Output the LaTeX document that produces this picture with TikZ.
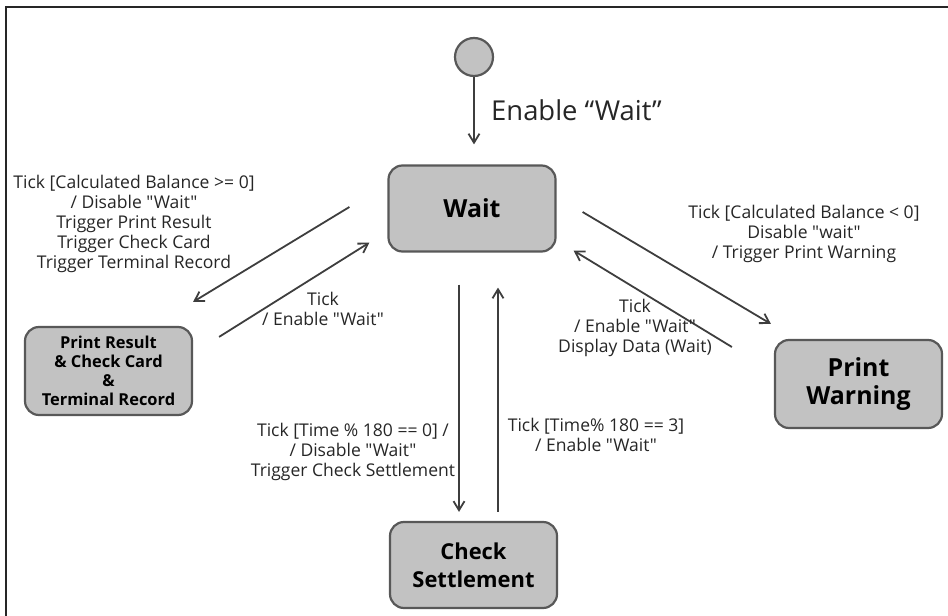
\documentclass[tikz,border=0pt]{standalone}
\usepackage{fontspec}
\newfontfamily\lblfont{Open Sans}
\usepackage{tikz}
\usetikzlibrary{calc}
\usetikzlibrary{arrows.meta}
\usetikzlibrary{positioning}

\definecolor{statefill}{RGB}{194,194,194}
\definecolor{stateline}{RGB}{88,88,88}
\definecolor{arrowgray}{RGB}{62,62,62}

\tikzset{
  state/.style={draw=stateline, line width=2.2bp, fill=statefill, rounded corners=14bp, align=center, inner sep=2bp,
    minimum width=167bp, minimum height=86bp, font=\lblfont\bfseries\fontsize{25}{28}\selectfont},
  trans/.style={draw=arrowgray, line width=1.8bp, -{Straight Barb[length=9bp,width=11bp]}},
  guard/.style={align=center, inner sep=0pt, text=black!85, font=\lblfont\fontsize{17.6}{20.2}\selectfont}
}

\begin{document}
\begin{tikzpicture}[x=1bp, y=-1bp]
\useasboundingbox (0,0) rectangle (948,616);
\draw[line width=2bp, draw=black!85] (5.5,616) -- (5.5,7.5) -- (948,7.5);

% states
\node[circle, draw=stateline, line width=2.2bp, fill=statefill, minimum size=38bp, inner sep=0pt] (init) at (474,57) {};
\node[state] (wait) at (472,208.5) {Wait};
\node[state, minimum height=88bp, font=\lblfont\bfseries\fontsize{16.5}{19}\selectfont] (result) at (108.5,371) {Print Result\\ \& Check Card\\ \&\\ Terminal Record};
\node[state, minimum height=88bp] (warning) at (858.5,384) {Print\\ Warning};
\node[state, font=\lblfont\bfseries\fontsize{22}{28}\selectfont] (settle) at (473.5,565) {Check\\ Settlement};

% transitions
\draw[trans, shorten >=20bp] (init) -- (init |- wait.north);
\node[anchor=west, inner sep=0pt, text=black!85, font=\lblfont\fontsize{27.5}{30}\selectfont] (enablelbl) at (491,110) {Enable “Wait”};

\draw[trans] ($(wait.west)+(-38,-1.5)$) -- ($(result.north east)+(0,-24)$);
\draw[trans] ($(result.north east)+(26,11)$) -- ($(wait.south west)+(-18,-10)$);
\draw[trans] ($(wait.east)+(26,3.5)$) -- ($(warning.north west)+(-3,-15)$);
\draw[trans] ($(warning.west)+(-42,-37)$) -- ($(wait.south east)+(17,-2)$);
\draw[trans] ($(wait.south)+(-13,32)$) -- ($(settle.north)+(-14.5,-9)$);
\draw[trans] ($(settle.north)+(24.5,-9)$) -- ($(wait.south)+(26,35)$);

% guards
\node[guard] (leftguard) at (134,224) {Tick [Calculated Balance >= 0]\\ / Disable "Wait"\\ Trigger Print Result\\ Trigger Check Card\\ Trigger Terminal Record};
\node[guard] (leftback) at (323,309) {Tick\\ / Enable "Wait"};
\node[guard] (rightguard) at (804,234) {Tick [Calculated Balance < 0]\\ Disable "wait"\\ / Trigger Print Warning};
\node[guard] (rightback) at (635,328) {Tick\\ / Enable "Wait"\\ Display Data (Wait)};
\node[guard] (downguard) at (353,452) {Tick [Time \% 180 == 0] /\\ / Disable "Wait"\\ Trigger Check Settlement};
\node[guard] (upguard) at (596,435) {Tick [Time\% 180 == 3]\\ / Enable "Wait"};
\end{tikzpicture}
\end{document}
